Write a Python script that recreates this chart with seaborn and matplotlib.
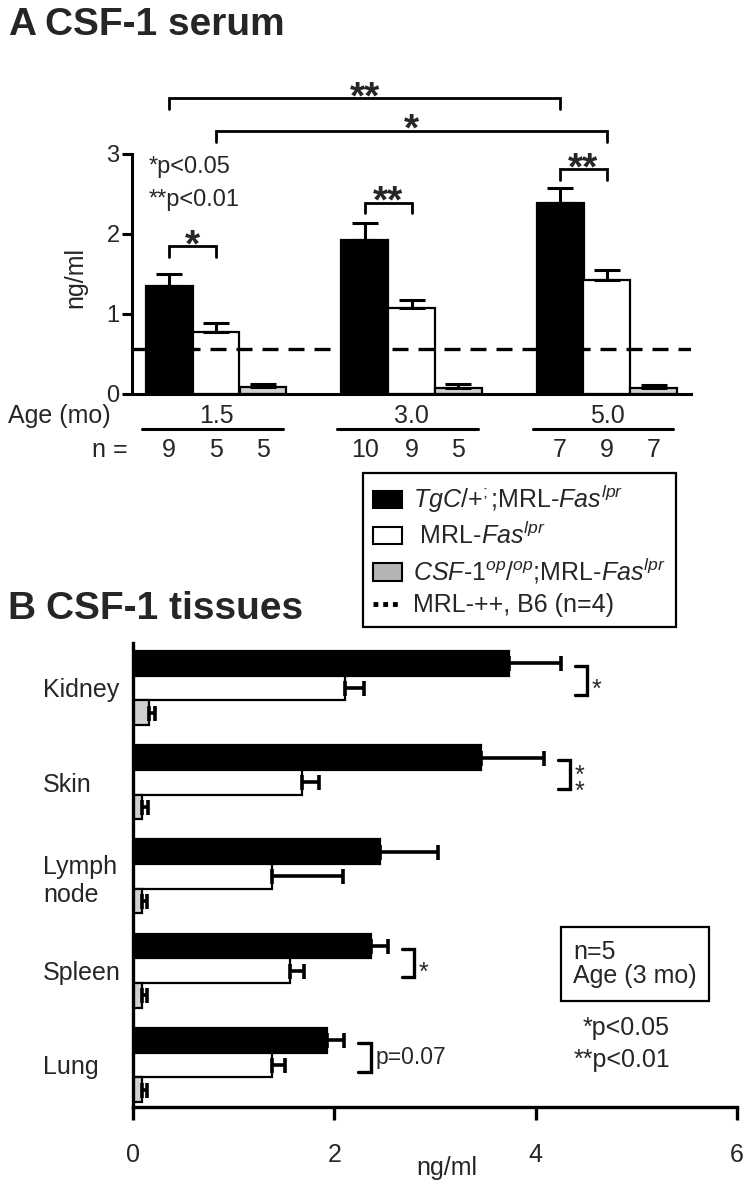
import numpy as np
import pandas as pd
import matplotlib
matplotlib.use('Agg')
import matplotlib.pyplot as plt
import matplotlib.transforms as mtransforms
from matplotlib.patches import Patch
from matplotlib.lines import Line2D
import seaborn as sns

# ---- panel A: CSF-1 in serum (ng/ml), mean and upper SEM
ages = ['1.5', '3.0', '5.0']
genotypes = ['TgC', 'MRL', 'op']
serum_tgc = [1.35, 1.93, 2.39]
serum_tgc_err = [0.15, 0.21, 0.19]
serum_mrl = [0.78, 1.07, 1.43]
serum_mrl_err = [0.11, 0.11, 0.12]
serum_op = [0.09, 0.08, 0.07]
serum_op_err = [0.04, 0.05, 0.04]
n_mice = [[9, 10, 7], [5, 9, 9], [5, 5, 7]]  # per genotype, per age
control_level = 0.56  # MRL-++, B6

# significance brackets: (genotype a, age a, genotype b, age b, height, drop, label)
serum_brackets = [
    (0, 0, 1, 0, 1.85, 0.14, '*'),
    (0, 1, 1, 1, 2.39, 0.13, '**'),
    (0, 2, 1, 2, 2.81, 0.13, '**'),
    (0, 0, 0, 2, 3.70, 0.14, '**'),
    (1, 0, 1, 2, 3.29, 0.14, '*'),
]

# ---- panel B: CSF-1 in tissues (ng/ml), 3 mo, n=5
tissues = ['Kidney', 'Skin', 'Lymph\nnode', 'Spleen', 'Lung']
tis_tgc = [3.74, 3.46, 2.45, 2.36, 1.93]
tis_tgc_err = [0.51, 0.62, 0.58, 0.17, 0.17]
tis_mrl = [2.11, 1.68, 1.38, 1.56, 1.38]
tis_mrl_err = [0.18, 0.17, 0.71, 0.14, 0.13]
tis_op = [0.16, 0.09, 0.09, 0.09, 0.09]
tis_op_err = [0.06, 0.06, 0.05, 0.05, 0.05]
tissue_sig = ['*', '*\n*', '', '*', 'p=0.07']

sns.set_style('white')
plt.rcParams['font.family'] = ['Liberation Sans', 'DejaVu Sans']
plt.rcParams['mathtext.fontset'] = 'custom'
plt.rcParams['mathtext.rm'] = 'Liberation Sans'
plt.rcParams['mathtext.it'] = 'Liberation Sans:italic'
plt.rcParams['mathtext.bf'] = 'Liberation Sans:bold'

W, H = 750, 1188
fig = plt.figure(figsize=(W / 100, H / 100), dpi=100)


def fx(px):
    return px / W


def fy(py):
    return 1 - py / H


palette = {'TgC': 'black', 'MRL': 'white', 'op': '#d0d0d0'}
FS = 18

# ------------------- Panel A -------------------
serum = pd.DataFrame({
    'age': ages * 3,
    'genotype': np.repeat(genotypes, 3),
    'value': serum_tgc + serum_mrl + serum_op,
})
axA = fig.add_axes([fx(132), fy(394), fx(691) - fx(132), fy(154) - fy(394)])
sns.barplot(data=serum, x='age', y='value', hue='genotype', order=ages, hue_order=genotypes,
            palette=palette, saturation=1, edgecolor='black', linewidth=1.6, width=0.72,
            errorbar=None, legend=False, ax=axA)

centers = []
for cont, err in zip(axA.containers, [serum_tgc_err, serum_mrl_err, serum_op_err]):
    xs = [b.get_x() + b.get_width() / 2 for b in cont]
    ys = [b.get_height() for b in cont]
    axA.errorbar(xs, ys, yerr=[np.zeros(len(err)), err], fmt='none', ecolor='black',
                 elinewidth=2.2, capsize=9.5, capthick=2.2)
    centers.append(xs)

axA.axhline(control_level, color='black', lw=2.4, dashes=(4.8, 3), zorder=5)

sns.despine(ax=axA)
for s in ['left', 'bottom']:
    axA.spines[s].set_linewidth(2.2)
    axA.spines[s].set_color('black')
axA.set_xlim(-0.43, 2.43)
axA.set_ylim(0, 3)
axA.set_yticks([0, 1, 2, 3])
axA.set_xticks([])
axA.set_xlabel('')
axA.set_ylabel('')
axA.tick_params(axis='y', left=True, direction='out', length=7, width=2.2, pad=2,
                labelsize=17, color='black')

for gi, ai, gj, aj, y, drop, label in serum_brackets:
    x0, x1 = centers[gi][ai], centers[gj][aj]
    axA.plot([x0, x0, x1, x1], [y - drop, y, y, y - drop], color='black', lw=2,
             clip_on=False, solid_joinstyle='miter')
    axA.text((x0 + x1) / 2, y, label, ha='center', va='center', fontsize=28,
             fontweight='bold', clip_on=False)

fig.text(fx(149), fy(167), '*p<0.05', fontsize=17, ha='left', va='center')
fig.text(fx(149), fy(200), '**p<0.01', fontsize=17, ha='left', va='center')
fig.text(fx(75), fy(277), 'ng/ml', fontsize=FS, rotation=90, ha='center', va='center')

# age and n rows under the axis
trans = mtransforms.blended_transform_factory(axA.transData, fig.transFigure)
fig.text(fx(8), fy(416), 'Age (mo)', fontsize=FS, ha='left', va='center')
for k, age in enumerate(ages):
    axA.text(k, fy(416), age, transform=trans, ha='center', va='center', fontsize=FS)
    axA.plot([k - 0.38, k + 0.34], [fy(429)] * 2, transform=trans, color='black',
             lw=2.2, clip_on=False)
fig.text(fx(128), fy(450), 'n =', fontsize=FS, ha='right', va='center')
for g, xs in enumerate(centers):
    for k, x in enumerate(xs):
        axA.text(x, fy(450), str(n_mice[g][k]), transform=trans, ha='center',
                 va='center', fontsize=FS)

# legend
leg_handles = [Patch(facecolor='black', edgecolor='black', linewidth=1.5),
               Patch(facecolor='white', edgecolor='black', linewidth=1.5),
               Patch(facecolor='#b4b4b4', edgecolor='black', linewidth=1.5),
               Line2D([0], [0], color='black', lw=3.5, linestyle=(0, (1, 1)))]
leg_labels = [r'$\mathit{TgC}$/+$^{;}$;MRL-$\mathit{Fas}^{lpr}$',
              r' MRL-$\mathit{Fas}^{lpr}$',
              r'$\mathit{CSF}$-$\mathit{1}^{op}$/$^{op}$;MRL-$\mathit{Fas}^{lpr}$',
              'MRL-++, B6 (n=4)']
leg = fig.legend(leg_handles, leg_labels, loc='upper left',
                 bbox_to_anchor=(fx(363), fy(473)), bbox_transform=fig.transFigure,
                 fontsize=FS, frameon=True, fancybox=False, edgecolor='black',
                 framealpha=1, borderaxespad=0, borderpad=0.4, handlelength=1.16,
                 handleheight=0.68, handletextpad=0.44, labelspacing=0.28)
leg.get_frame().set_linewidth(1.6)

# ------------------- Panel B -------------------
tissue_df = pd.DataFrame({
    'tissue': tissues * 3,
    'genotype': np.repeat(genotypes, 5),
    'value': tis_tgc + tis_mrl + tis_op,
})
axB = fig.add_axes([fx(133), fy(1107), fx(737) - fx(133), fy(643) - fy(1107)])
sns.barplot(data=tissue_df, x='value', y='tissue', hue='genotype', order=tissues,
            hue_order=genotypes, orient='h', palette=palette, saturation=1,
            edgecolor='black', linewidth=1.6, width=0.785, errorbar=None,
            legend=False, ax=axB)

bar_y = []
err_end = []
for cont, err in zip(axB.containers, [tis_tgc_err, tis_mrl_err, tis_op_err]):
    ys = [b.get_y() + b.get_height() / 2 for b in cont]
    xs = [b.get_width() for b in cont]
    axB.errorbar(xs, ys, xerr=[np.zeros(len(err)), err], fmt='none', ecolor='black',
                 elinewidth=2.6, capsize=5.4, capthick=2.6)
    bar_y.append(ys)
    err_end.append([x + e for x, e in zip(xs, err)])

sns.despine(ax=axB)
for s in ['left', 'bottom']:
    axB.spines[s].set_linewidth(2.4)
    axB.spines[s].set_color('black')
axB.set_xlim(0, 6)
axB.set_ylim(4.446, -0.477)
axB.set_xticks([0, 2, 4, 6])
axB.set_yticks(range(len(tissues)), tissues, ha='left', va='center_baseline')
axB.set_xlabel('')
axB.set_ylabel('')
axB.tick_params(axis='x', bottom=True, direction='out', length=9.4, width=2.4, pad=16.5,
                labelsize=FS, color='black')
axB.tick_params(axis='y', left=False, length=0, pad=64.8, labelsize=FS)

for k, lab in enumerate(tissue_sig):
    if not lab:
        continue
    x0 = max(err_end[0][k], err_end[1][k]) + 0.14
    x1 = x0 + 0.12
    y0 = bar_y[0][k] + 0.03
    y1 = bar_y[1][k] + 0.07
    axB.plot([x0, x1, x1, x0], [y0, y0, y1, y1], color='black', lw=2.4,
             clip_on=False, solid_joinstyle='miter')
    mid = (y0 + y1) / 2
    if lab.startswith('p'):
        axB.text(x1 + 0.05, mid, lab, ha='left', va='center', fontsize=16.5)
    else:
        axB.text(x1 + 0.05, mid + 0.1, lab, ha='left', va='center', fontsize=FS,
                 linespacing=0.6)

fig.text(fx(447), fy(1168), 'ng/ml', fontsize=FS, ha='center', va='center')
fig.text(fx(573), fy(964), 'n=5\nAge (3 mo)', fontsize=FS, ha='left', va='center',
         linespacing=1.05,
         bbox=dict(boxstyle='square,pad=0.5', fc='white', ec='black', lw=1.6))
fig.text(fx(670), fy(1028), '*p<0.05', fontsize=FS, ha='right', va='center')
fig.text(fx(670), fy(1060), '**p<0.01', fontsize=FS, ha='right', va='center')

# panel titles
fig.text(fx(8), fy(35), 'A', fontsize=28, fontweight='bold', va='baseline')
fig.text(fx(45), fy(35), 'CSF-1 serum', fontsize=28, fontweight='bold', va='baseline')
fig.text(fx(7), fy(619), 'B', fontsize=28, fontweight='bold', va='baseline')
fig.text(fx(46), fy(619), 'CSF-1 tissues', fontsize=28, fontweight='bold', va='baseline')

fig.savefig('out.png', dpi=100)
